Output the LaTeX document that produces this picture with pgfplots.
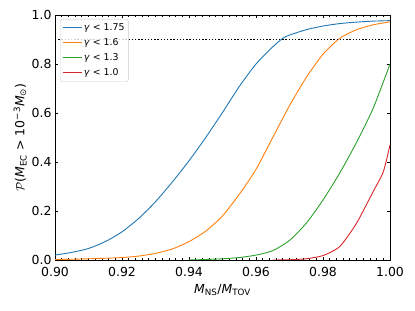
\documentclass[border=0pt]{standalone}
\usepackage{fontspec}
\setmainfont{DejaVu Sans}
\usepackage{pgfplots}
\pgfplotsset{compat=1.18}
\definecolor{tabblue}{HTML}{1F77B4}
\definecolor{taborange}{HTML}{FF7F0E}
\definecolor{tabgreen}{HTML}{2CA02C}
\definecolor{tabred}{HTML}{D62728}
\begin{document}
\begin{tikzpicture}
\useasboundingbox (0,0) rectangle (415bp,311bp);
\begin{axis}[
  at={(55bp,51bp)}, anchor=south west,
  scale only axis, width=335bp, height=245bp,
  xmin=0.9, xmax=1.0, ymin=0, ymax=1,
  xtick={0.90,0.92,0.94,0.96,0.98,1.00},
  ytick={0,0.2,0.4,0.6,0.8,1.0},
  minor x tick num=9,
  scaled x ticks=false, scaled y ticks=false,
  tick align=inside,
  major tick length=3.2bp, minor tick length=1.8bp,
  tick style={black, line width=0.7bp},
  axis line style={line width=0.7bp},
  /pgf/number format/assume math mode=true,
  xticklabel style={yshift=-3.5bp, /pgf/number format/fixed, /pgf/number format/fixed zerofill, /pgf/number format/precision=2},
  yticklabel style={/pgf/number format/fixed, /pgf/number format/fixed zerofill, /pgf/number format/precision=1},
  ticklabel style={font=\fontsize{12.5}{15}\selectfont},
  label style={font=\fontsize{12.5}{15}\selectfont},
  xlabel style={yshift=-1bp},
  ylabel style={yshift=-2bp},
  xlabel={\textit{M}\textsubscript{NS}/\textit{M}\textsubscript{TOV}},
  ylabel={$\mathcal{P}$(\textit{M}\textsubscript{EC} > 10\textsuperscript{−3}\textit{M}\textsubscript{⊙})},
  legend style={at={(0.015,0.984)}, anchor=north west,
    font=\fontsize{9.4}{11}\selectfont,
    draw=black!20, rounded corners=2pt, fill=white, fill opacity=0.8, text opacity=1,
    inner xsep=2bp, inner ysep=2.5bp, row sep=2.6bp,
    nodes={inner sep=1.8bp, text height=6.8bp, text depth=2bp}},
  legend cell align=left,
  legend image code/.code={\draw[#1] (0bp,0bp) -- (19bp,0bp);},
]
\addplot[tabblue, line width=0.9bp, smooth, tension=0.4] coordinates {
(0.900,0.020) (0.905,0.031) (0.910,0.047) (0.915,0.075) (0.920,0.115)
(0.925,0.170) (0.930,0.238) (0.935,0.318) (0.940,0.405) (0.945,0.500)
(0.950,0.602) (0.955,0.708) (0.960,0.800) (0.965,0.870) (0.968,0.905)
(0.970,0.918) (0.975,0.940) (0.980,0.955) (0.985,0.965) (0.990,0.971)
(0.995,0.975) (1.000,0.977)};
\addlegendentry{\textit{γ} < 1.75}
\addplot[taborange, line width=0.9bp, smooth, tension=0.4] coordinates {
(0.900,0.002) (0.905,0.003) (0.910,0.005) (0.915,0.007) (0.920,0.010)
(0.925,0.016) (0.930,0.027) (0.935,0.045) (0.940,0.075) (0.945,0.118)
(0.950,0.180) (0.955,0.268) (0.960,0.370) (0.965,0.500) (0.970,0.630)
(0.975,0.745) (0.980,0.840) (0.985,0.905) (0.990,0.940) (0.995,0.960)
(1.000,0.972)};
\addlegendentry{\textit{γ} < 1.6}
\addplot[tabgreen, line width=0.9bp, smooth, tension=0.4] coordinates {
(0.940,0.000) (0.945,0.002) (0.950,0.005) (0.955,0.010) (0.960,0.020)
(0.965,0.038) (0.970,0.080) (0.975,0.150) (0.980,0.245) (0.985,0.355)
(0.990,0.480) (0.995,0.620) (1.000,0.800)};
\addlegendentry{\textit{γ} < 1.3}
\addplot[tabred, line width=0.9bp, smooth, tension=0.4] coordinates {
(0.965,0.000) (0.970,0.001) (0.975,0.005) (0.980,0.018) (0.985,0.055)
(0.990,0.150) (0.995,0.280) (0.998,0.360) (1.000,0.470)};
\addlegendentry{\textit{γ} < 1.0}
\addplot[black, line width=1.4bp, dash pattern=on 1.4bp off 1.8bp, forget plot] coordinates {(0.9,0.9) (1.0,0.9)};
\end{axis}
\end{tikzpicture}
\end{document}
